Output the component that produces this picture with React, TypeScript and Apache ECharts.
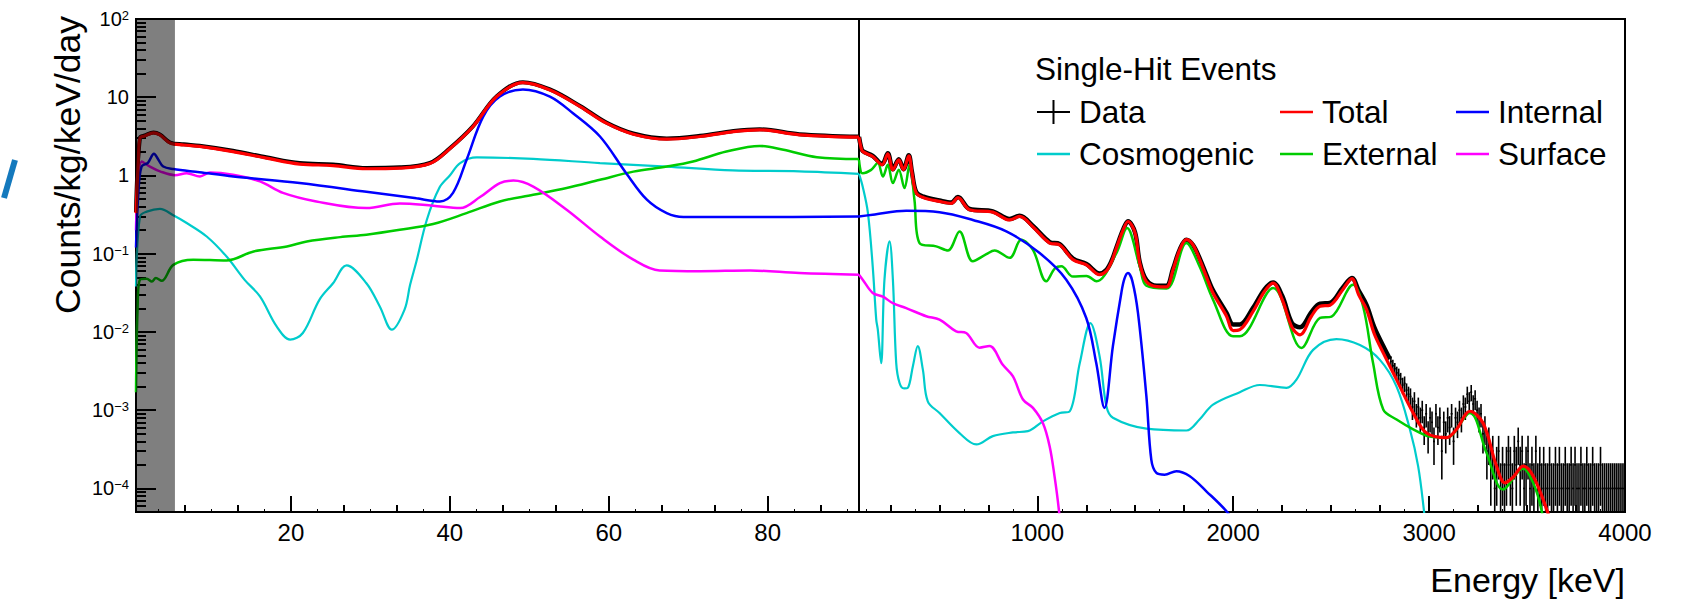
import React, { useEffect, useRef } from 'react';
import * as echarts from 'echarts';

// ---------------- DATA (energy in keV, rate in counts/kg/keV/day) ----------------
// Left panel (low energy)
const totalLowE = [0.5, 0.8, 1.0, 1.6, 2.7, 3.5, 4.8, 6.5, 8.5, 12.7, 16.9, 21.1, 25.3, 29.5, 33.7, 37.5, 40.0, 42.9, 45.9, 49.2, 52.6, 56.4, 59.7, 63.1, 67.3, 71.5, 75.7, 79.0, 84.0, 91.5];
const totalLowV = [0.33, 1.6, 3.0, 3.2, 3.5, 3.3, 2.6, 2.45, 2.35, 2.02, 1.67, 1.40, 1.34, 1.22, 1.24, 1.42, 2.2, 4.2, 10.2, 15.4, 12.4, 7.6, 4.66, 3.37, 2.91, 3.15, 3.64, 3.83, 3.31, 3.09];

const dataLowE = [0.5, 1.0, 1.6, 2.7, 3.5, 4.8, 6.5, 8.5, 12.7, 16.9, 21.1, 25.3, 29.5, 33.7, 37.5, 40.0, 42.9, 45.9, 49.2, 52.6, 56.4, 59.7, 63.1, 67.3, 71.5, 75.7, 79.0, 84.0, 91.5];
const dataLowV = [0.34, 3.05, 3.25, 3.55, 3.35, 2.64, 2.5, 2.4, 2.07, 1.71, 1.44, 1.38, 1.25, 1.27, 1.45, 2.23, 4.25, 10.3, 15.6, 12.6, 7.75, 4.75, 3.44, 2.97, 3.21, 3.71, 3.9, 3.37, 3.14];

const internalLowE = [0.5, 0.8, 1.2, 2.0, 2.76, 3.3, 3.93, 5.19, 8.5, 12.74, 21.1, 29.5, 35.8, 38.75, 40.4, 42.1, 44.2, 46.3, 49.2, 52.6, 55.5, 58.9, 62.2, 64.8, 67.3, 69.4, 77.8, 91.5];
const internalLowV = [0.12, 0.6, 1.30, 1.45, 1.89, 1.6, 1.30, 1.21, 1.1, 0.97, 0.80, 0.62, 0.51, 0.466, 0.6, 1.58, 5.66, 10.2, 12.6, 10.2, 6.25, 3.15, 1.07, 0.49, 0.33, 0.294, 0.294, 0.30];

const cosmoLowE = [0.5, 1.0, 1.85, 3.52, 5.19, 6.88, 9.4, 11.9, 14.2, 16.1, 18.2, 19.9, 21.5, 23.6, 25.3, 27.0, 29.5, 31.2, 32.7, 34.3, 35.0, 35.8, 37.1, 38.7, 40.0, 41.3, 43.4, 50.5, 58.9, 67.3, 75.6, 84.0, 91.5];
const cosmoLowV = [0.038, 0.30, 0.345, 0.375, 0.31, 0.247, 0.166, 0.092, 0.046, 0.0285, 0.0118, 0.008, 0.0097, 0.0259, 0.042, 0.071, 0.042, 0.021, 0.0107, 0.0193, 0.04, 0.08, 0.27, 0.7, 1.0, 1.44, 1.70, 1.63, 1.44, 1.30, 1.16, 1.13, 1.05];

const externalLowE = [0.5, 0.7, 1.0, 1.85, 2.5, 3.0, 3.73, 5.2, 7.7, 11.9, 15.3, 19.5, 22.0, 26.2, 29.5, 33.7, 37.9, 42.1, 46.3, 50.5, 54.7, 58.9, 63.1, 67.3, 70.6, 74.8, 79.0, 82.0, 86.2, 91.5];
const externalLowV = [0.0017, 0.02, 0.0466, 0.048, 0.044, 0.049, 0.045, 0.072, 0.084, 0.082, 0.107, 0.124, 0.1435, 0.163, 0.175, 0.202, 0.24, 0.33, 0.466, 0.566, 0.69, 0.88, 1.12, 1.30, 1.51, 2.02, 2.39, 2.13, 1.71, 1.62];

const surfaceLowE = [0.5, 1.22, 2.26, 3.52, 5.4, 6.88, 8.55, 9.8, 12.7, 16.1, 19.0, 23.2, 29.5, 33.7, 37.9, 41.3, 43.8, 46.3, 48.0, 50.5, 54.7, 58.9, 63.1, 66.4, 71.5, 77.8, 84.0, 91.5];
const surfaceLowV = [0.2, 1.51, 1.30, 1.13, 1.01, 1.07, 0.97, 1.09, 1.02, 0.84, 0.6, 0.466, 0.383, 0.44, 0.41, 0.383, 0.53, 0.8, 0.86, 0.72, 0.365, 0.166, 0.084, 0.061, 0.0598, 0.061, 0.0566, 0.054];

// Right panel (high energy)
const totalHighE = [90, 100, 109, 160, 208, 237, 263, 293, 317, 344, 360, 382, 420, 501, 561, 595, 654, 773, 859, 910, 978, 1063, 1114, 1182, 1251, 1318, 1352, 1380, 1404, 1438, 1463, 1499, 1523, 1557, 1610, 1659, 1693, 1727, 1761, 1795, 1829, 1863, 1897, 1966, 2000, 2034, 2100, 2160, 2204, 2250, 2300, 2341, 2400, 2443, 2494, 2560, 2606, 2640, 2681, 2720, 2766, 2834, 2919, 2987, 3089, 3140, 3208, 3276, 3344, 3387, 3430, 3480, 3531, 3600, 3640];
const totalHighV = [3.09, 2.3, 2.02, 1.75, 1.37, 1.89, 1.18, 1.58, 1.18, 1.78, 1.1, 0.60, 0.52, 0.466, 0.44, 0.52, 0.365, 0.34, 0.27, 0.30, 0.22, 0.137, 0.13, 0.084, 0.072, 0.054, 0.06, 0.08, 0.118, 0.2, 0.258, 0.184, 0.076, 0.044, 0.038, 0.0376, 0.0625, 0.112, 0.151, 0.13, 0.084, 0.051, 0.0315, 0.0159, 0.0104, 0.0107, 0.018, 0.033, 0.042, 0.026, 0.0115, 0.0092, 0.016, 0.0213, 0.022, 0.035, 0.048, 0.03, 0.0193, 0.0095, 0.0054, 0.00246, 0.00092, 0.00051, 0.000445, 0.00057, 0.00097, 0.00068, 0.000193, 0.000118, 0.00014, 0.000193, 0.000144, 0.000054, 0.000025];

const dataHighE = [90, 100, 109, 160, 208, 237, 263, 293, 317, 344, 360, 382, 420, 501, 561, 595, 654, 773, 859, 910, 978, 1063, 1114, 1182, 1251, 1318, 1352, 1380, 1404, 1438, 1463, 1499, 1523, 1557, 1610, 1659, 1693, 1727, 1761, 1795, 1829, 1863, 1897, 1966, 2000, 2034, 2100, 2160, 2204, 2250, 2300, 2341, 2400, 2443, 2494, 2560, 2606, 2640, 2681, 2720, 2766, 2800];
const dataHighV = [3.12, 2.33, 2.06, 1.78, 1.4, 1.92, 1.2, 1.61, 1.2, 1.81, 1.12, 0.615, 0.535, 0.478, 0.45, 0.53, 0.373, 0.348, 0.278, 0.305, 0.226, 0.141, 0.133, 0.087, 0.074, 0.056, 0.062, 0.082, 0.12, 0.203, 0.26, 0.188, 0.078, 0.046, 0.039, 0.039, 0.064, 0.113, 0.151, 0.129, 0.087, 0.054, 0.034, 0.0175, 0.0125, 0.0125, 0.02, 0.035, 0.043, 0.029, 0.013, 0.0115, 0.018, 0.023, 0.0235, 0.037, 0.049, 0.034, 0.022, 0.0115, 0.0066, 0.0045];

// Data points with error bars in the high-energy tail (10 keV bins)
const tailE = [
  2805, 2815, 2825, 2835, 2845, 2855, 2865, 2875, 2885, 2895,
  2905, 2915, 2925, 2935, 2945, 2955, 2965, 2975, 2985, 2995,
  3005, 3015, 3025, 3035, 3045, 3055, 3065, 3075, 3085, 3095,
  3105, 3115, 3125, 3135, 3145, 3155, 3165, 3175, 3185, 3195,
  3205, 3215, 3225, 3235, 3245, 3255, 3265, 3275, 3285, 3295,
  3305, 3315, 3325, 3335, 3345, 3355, 3365, 3375, 3385, 3395,
  3405, 3415, 3425, 3435, 3445, 3455, 3465, 3475, 3485, 3495,
  3505, 3515, 3525, 3535, 3545, 3555, 3565, 3575, 3585, 3595,
  3605, 3615, 3625, 3635, 3645, 3655, 3665, 3675, 3685, 3695,
  3705, 3715, 3725, 3735, 3745, 3755, 3765, 3775, 3785, 3795,
  3805, 3815, 3825, 3835, 3845, 3855, 3865, 3875, 3885, 3895,
  3905, 3915, 3925, 3935, 3945, 3955, 3965, 3975, 3985, 3995,
];
const tailV = [
  0.0042, 0.0037, 0.0034, 0.0030, 0.0028, 0.0025, 0.0021, 0.0022, 0.0018, 0.0016,
  0.0015, 0.0011, 0.0013, 0.0009, 0.0011, 0.0008, 0.0010, 0.0006, 0.0009, 0.0005,
  0.0008, 0.0007, 0.0004, 0.0009, 0.0006, 0.0008, 0.0003, 0.0007, 0.0005, 0.0008,
  0.0006, 0.0009, 0.0004, 0.0008, 0.0007, 0.0010, 0.0008, 0.0012, 0.0011, 0.0016,
  0.0013, 0.0017, 0.0012, 0.0014, 0.0010, 0.0008, 0.0009, 0.0005, 0.0006, 0.0003,
  0.0004, 0.0002, 0.0003, 0.0001, 0.0002, 0.0003, 0.0001, 0.0002, 0.0001, 0.0002,
  0.0003, 0.0002, 0.0001, 0.0003, 0.0002, 0.0004, 0.0002, 0.0003, 0.0001, 0.0002,
  0.0003, 0.0001, 0.0002, 0.0001, 0.0003, 0.0001, 0.0002, 0.0001, 0.0002, 0.0001,
  0.0001, 0.0002, 0.0001, 0.0001, 0.0002, 0.0001, 0.0002, 0.0001, 0.0001, 0.0002,
  0.0001, 0.0001, 0.0002, 0.0001, 0.0002, 0.0001, 0.0001, 0.0002, 0.0001, 0.0001,
  0.0002, 0.0001, 0.0001, 0.0002, 0.0001, 0.0001, 0.0001, 0.0002, 0.0001, 0.0001,
  0.0001, 0.0001, 0.0001, 0.0001, 0.0001, 0.0001, 0.0001, 0.0001, 0.0001, 0.0001,
];
const tailLo = [
  0.0035, 0.0030, 0.0028, 0.0024, 0.0022, 0.0020, 0.0016, 0.0017, 0.0014, 0.0012,
  0.0011, 0.00075, 0.0009, 0.0006, 0.00075, 0.00052, 0.00068, 0.00036, 0.0006, 0.00028,
  0.00052, 0.00044, 0.0002, 0.0006, 0.00036, 0.00052, 0.00013, 0.00044, 0.00028, 0.00052,
  0.00036, 0.0006, 0.0002, 0.00052, 0.00044, 0.00068, 0.00052, 0.00085, 0.00075, 0.0012,
  0.0009, 0.0013, 0.00085, 0.0010, 0.00068, 0.00052, 0.0006, 0.00028, 0.00036, 0.00013,
  0.0002, 0.00006, 0.00013, 0.00001, 0.00006, 0.00013, 0.00001, 0.00006, 0.00001, 0.00006,
  0.00013, 0.00006, 0.00001, 0.00013, 0.00006, 0.0002, 0.00006, 0.00013, 0.00001, 0.00006,
  0.00013, 0.00001, 0.00006, 0.00001, 0.00013, 0.00001, 0.00006, 0.00001, 0.00006, 0.00001,
  0.00001, 0.00006, 0.00001, 0.00001, 0.00006, 0.00001, 0.00006, 0.00001, 0.00001, 0.00006,
  0.00001, 0.00001, 0.00006, 0.00001, 0.00006, 0.00001, 0.00001, 0.00006, 0.00001, 0.00001,
  0.00006, 0.00001, 0.00001, 0.00006, 0.00001, 0.00001, 0.00001, 0.00006, 0.00001, 0.00001,
  0.00001, 0.00001, 0.00001, 0.00001, 0.00001, 0.00001, 0.00001, 0.00001, 0.00001, 0.00001,
];
const tailHi = [
  0.0049, 0.0044, 0.0040, 0.0036, 0.0034, 0.0030, 0.0026, 0.0027, 0.0022, 0.0020,
  0.0019, 0.00145, 0.0017, 0.0012, 0.00145, 0.00108, 0.00132, 0.00084, 0.0012, 0.00072,
  0.00108, 0.00096, 0.0006, 0.0012, 0.00084, 0.00108, 0.00047, 0.00096, 0.00072, 0.00108,
  0.00084, 0.0012, 0.0006, 0.00108, 0.00096, 0.00132, 0.00108, 0.00155, 0.00145, 0.0020,
  0.0017, 0.0021, 0.00155, 0.0018, 0.00132, 0.00108, 0.0012, 0.00072, 0.00084, 0.00047,
  0.0006, 0.00034, 0.00047, 0.00021, 0.00034, 0.00047, 0.00021, 0.00034, 0.00021, 0.00034,
  0.00047, 0.00034, 0.00021, 0.00047, 0.00034, 0.0006, 0.00034, 0.00047, 0.00021, 0.00034,
  0.00047, 0.00021, 0.00034, 0.00021, 0.00047, 0.00021, 0.00034, 0.00021, 0.00034, 0.00021,
  0.00021, 0.00034, 0.00021, 0.00021, 0.00034, 0.00021, 0.00034, 0.00021, 0.00021, 0.00034,
  0.00021, 0.00021, 0.00034, 0.00021, 0.00034, 0.00021, 0.00021, 0.00034, 0.00021, 0.00021,
  0.00034, 0.00021, 0.00021, 0.00034, 0.00021, 0.00021, 0.00021, 0.00034, 0.00021, 0.00021,
  0.00021, 0.00021, 0.00021, 0.00021, 0.00021, 0.00021, 0.00021, 0.00021, 0.00021, 0.00021,
];
const tailHalfBin = 5;

const internalHighE = [90, 160, 331, 501, 671, 842, 1012, 1148, 1250, 1301, 1343, 1386, 1429, 1445, 1463, 1485, 1514, 1557, 1582, 1608, 1650, 1710, 1777, 1863, 1966, 2030];
const internalHighV = [0.30, 0.315, 0.354, 0.34, 0.27, 0.193, 0.102, 0.0466, 0.0151, 0.004, 0.00107, 0.0066, 0.0315, 0.048, 0.0566, 0.045, 0.0175, 0.0015, 0.000234, 0.000158, 0.00015, 0.000166, 0.000144, 0.000092, 0.000051, 0.00003];

const cosmoHighE = [90, 109, 135, 160, 178, 186, 203, 220, 246, 263, 280, 297, 320, 339, 365, 390, 416, 441, 501, 603, 689, 773, 876, 952, 1029, 1115, 1166, 1217, 1271, 1318, 1353, 1386, 1557, 1761, 1828, 1897, 2034, 2136, 2272, 2323, 2408, 2527, 2647, 2749, 2834, 2902, 2944, 2973, 2990];
const cosmoHighV = [1.05, 0.72, 0.34, 0.069, 0.0144, 0.0107, 0.004, 0.0466, 0.1435, 0.0466, 0.004, 0.00223, 0.0019, 0.00193, 0.00365, 0.0066, 0.0033, 0.0013, 0.00092, 0.00051, 0.000365, 0.000466, 0.00052, 0.00054, 0.00072, 0.00092, 0.00097, 0.004, 0.013, 0.0049, 0.00112, 0.0008, 0.00058, 0.00055, 0.00076, 0.00118, 0.0017, 0.0021, 0.00193, 0.00246, 0.0059, 0.0081, 0.0068, 0.0044, 0.002, 0.00057, 0.000193, 0.000054, 0.00002];

const externalHighE = [90, 100, 109, 152, 186, 212, 237, 263, 293, 322, 348, 373, 399, 484, 544, 603, 671, 740, 782, 859, 918, 978, 1046, 1090, 1123, 1182, 1251, 1302, 1404, 1458, 1523, 1557, 1659, 1761, 1828, 1897, 1999, 2034, 2204, 2349, 2443, 2502, 2612, 2663, 2714, 2766, 2834, 2919, 3004, 3089, 3208, 3293, 3378, 3480, 3531, 3573, 3600];
const externalHighV = [1.58, 1.1, 1.07, 1.18, 1.44, 0.97, 1.37, 0.80, 1.18, 0.69, 1.37, 0.49, 0.137, 0.124, 0.11, 0.193, 0.08, 0.0985, 0.11, 0.0885, 0.151, 0.112, 0.0444, 0.065, 0.069, 0.051, 0.052, 0.0444, 0.102, 0.213, 0.069, 0.039, 0.036, 0.137, 0.069, 0.0259, 0.0088, 0.0088, 0.0365, 0.00625, 0.0151, 0.0157, 0.040, 0.0213, 0.004, 0.00102, 0.00076, 0.00057, 0.00046, 0.000445, 0.00092, 0.000285, 0.000097, 0.00018, 0.000118, 0.000054, 0.00002];

const surfaceHighE = [90, 109, 160, 212, 263, 331, 433, 501, 586, 637, 705, 756, 824, 876, 927, 978, 1029, 1063, 1088, 1110, 1125];
const surfaceHighV = [0.054, 0.0466, 0.0315, 0.0283, 0.0233, 0.0202, 0.0159, 0.0144, 0.0102, 0.0097, 0.0063, 0.0066, 0.0038, 0.0027, 0.00137, 0.00107, 0.00068, 0.000347, 0.000144, 0.000054, 0.00002];

// Threshold band (keV)
const bandRange = [0.5, 5.4];

// Axes
const lowRange = [0.5, 91.5];
const highRange = [90, 4000];
const yRange = [5e-5, 100];
const lowMajorTicks = [20, 40, 60, 80];
const lowMidTicks = [6.667, 13.333, 26.667, 33.333, 46.667, 53.333, 66.667, 73.333, 86.667];
const lowSmallTicks = [3.333, 10, 16.667, 23.333, 30, 36.667, 43.333, 50, 56.667, 63.333, 70, 76.667, 83.333, 90];
const highMajorTicks = [1000, 2000, 3000, 4000];
const highMidTicks = [250, 500, 750, 1250, 1500, 1750, 2250, 2500, 2750, 3250, 3500, 3750];
const highSmallTicks = [125, 375, 625, 875, 1125, 1375, 1625, 1875, 2125, 2375, 2625, 2875, 3125, 3375, 3625, 3875];
const yMajorTicks = [-4, -3, -2, -1, 0, 1, 2];
const yTickLabels = ['10{s|\u22124}', '10{s|\u22123}', '10{s|\u22122}', '10{s|\u22121}', '1', '10', '10{s|2}'];
const yMinorMantissa = [2, 3, 4, 5, 6, 7, 8, 9];
const yMinorDecades = [-5, -4, -3, -2, -1, 0, 1];

const FONT = '"Liberation Sans", Arial, Helvetica, sans-serif';
const COLORS = {
  Data: '#000000',
  Total: '#ff0000',
  Internal: '#0000ff',
  Cosmogenic: '#00cccc',
  External: '#00cc00',
  Surface: '#ff00ff',
};

const lg = (v: number) => Math.log10(v);
const toPairs = (es: number[], vs: number[]) => es.map((e, i) => [e, lg(vs[i])]);

const yMinorTicks: number[] = [];
yMinorDecades.forEach((d) => yMinorMantissa.forEach((m) => {
  const v = lg(m) + d;
  if (v >= lg(yRange[0]) && v <= lg(yRange[1])) yMinorTicks.push(v);
}));

const LINE_ICON = 'path://M0,0H0.01V0.01H0Z M0,10.8H33V13.2H0Z M33,23.99H33.01V24H33Z';
const CROSS_ICON = 'path://M0,0H0.01V0.01H0Z M0,11H33V13H0Z M15.5,0H17.5V24H15.5Z M33,23.99H33.01V24H33Z';

function lineSeries(name: string, es: number[], vs: number[], grid: number, width: number, z: number) {
  const color = (COLORS as any)[name];
  return {
    type: 'line',
    name,
    xAxisIndex: grid === 0 ? 0 : 3,
    yAxisIndex: grid === 0 ? 0 : 2,
    data: toPairs(es, vs),
    showSymbol: false,
    symbol: 'none',
    smooth: 0.35,
    clip: true,
    z,
    itemStyle: { color },
    lineStyle: { color, width },
    emphasis: { disabled: true },
  };
}

function tickAxis(gridIndex: number, range: number[], ticks: number[], length: number, width: number) {
  return {
    type: 'value',
    gridIndex,
    position: 'bottom',
    min: range[0],
    max: range[1],
    axisLine: { show: false, onZero: false },
    splitLine: { show: false },
    axisLabel: { show: false },
    axisTick: { show: true, inside: true, length, customValues: ticks, lineStyle: { color: '#000', width } },
  };
}

export default function App() {
  const ref = useRef<HTMLDivElement>(null);

  useEffect(() => {
    if (!ref.current) return;
    const chart = echarts.init(ref.current, undefined, { renderer: 'svg' });
    const yMin = lg(yRange[0]);
    const yMax = lg(yRange[1]);
    const plainNumber = (v: number) => String(Math.round(v));

    const option: any = {
      animation: false,
      backgroundColor: '#ffffff',
      textStyle: { fontFamily: FONT },
      title: {
        text: 'Single-Hit Events',
        left: 1035,
        top: 53,
        padding: 0,
        textStyle: { fontSize: 31.5, fontWeight: 'normal', color: '#000', fontFamily: FONT },
      },
      legend: [
        { names: ['Data', 'Cosmogenic'], left: 1037 },
        { names: ['Total', 'External'], left: 1280 },
        { names: ['Internal', 'Surface'], left: 1456 },
      ].map((l) => ({
        orient: 'vertical',
        left: l.left,
        top: 96,
        padding: 0,
        itemWidth: 33,
        itemHeight: 24,
        itemGap: 10,
        selectedMode: false,
        data: l.names.map((n) => ({ name: n, icon: n === 'Data' ? CROSS_ICON : LINE_ICON, itemStyle: { color: (COLORS as any)[n] } })),
        textStyle: { fontSize: 31.5, color: '#000', fontFamily: FONT, lineHeight: 32, padding: [0, 0, 0, 4] },
      })),
      grid: [
        { left: 136, top: 19, width: 723, height: 493, show: true, borderColor: '#000', borderWidth: 2, backgroundColor: 'transparent' },
        { left: 859, top: 19, width: 766, height: 493, show: true, borderColor: '#000', borderWidth: 2, backgroundColor: 'transparent' },
      ],
      xAxis: [
        {
          type: 'value', gridIndex: 0, position: 'bottom', min: lowRange[0], max: lowRange[1],
          axisLine: { show: false, onZero: false },
          splitLine: { show: false },
          axisTick: { show: true, inside: true, length: 16, customValues: lowMajorTicks, lineStyle: { color: '#000', width: 2 } },
          axisLabel: { show: true, customValues: lowMajorTicks, formatter: plainNumber, fontSize: 24, color: '#000', fontFamily: FONT, margin: 8 },
        },
        tickAxis(0, lowRange, lowMidTicks, 7, 2),
        tickAxis(0, lowRange, lowSmallTicks, 3, 1),
        {
          type: 'value', gridIndex: 1, position: 'bottom', min: highRange[0], max: highRange[1],
          axisLine: { show: false, onZero: false },
          splitLine: { show: false },
          axisTick: { show: true, inside: true, length: 16, customValues: highMajorTicks, lineStyle: { color: '#000', width: 2 } },
          axisLabel: { show: true, customValues: highMajorTicks, formatter: plainNumber, fontSize: 24, color: '#000', fontFamily: FONT, margin: 8 },
        },
        tickAxis(1, highRange, highMidTicks, 7, 2),
        tickAxis(1, highRange, highSmallTicks, 3, 1),
      ],
      yAxis: [
        {
          type: 'value', gridIndex: 0, position: 'left', min: yMin, max: yMax,
          axisLine: { show: false, onZero: false },
          splitLine: { show: false },
          axisTick: { show: true, inside: true, length: 20, customValues: yMajorTicks, lineStyle: { color: '#000', width: 2 } },
          axisLabel: {
            show: true,
            customValues: yMajorTicks,
            fontSize: 20,
            color: '#000',
            fontFamily: FONT,
            margin: 7,
            formatter: (v: number) => {
              const i = yMajorTicks.indexOf(Math.round(v));
              return i >= 0 ? yTickLabels[i] : '';
            },
            rich: { s: { fontSize: 13, verticalAlign: 'top', color: '#000', fontFamily: FONT, padding: [0, 0, 6, 0] } },
          },
        },
        {
          type: 'value', gridIndex: 0, position: 'left', min: yMin, max: yMax,
          axisLine: { show: false, onZero: false },
          splitLine: { show: false },
          axisLabel: { show: false },
          axisTick: { show: true, inside: true, length: 10, customValues: yMinorTicks, lineStyle: { color: '#000', width: 2 } },
        },
        {
          type: 'value', gridIndex: 1, position: 'left', min: yMin, max: yMax, show: false,
          axisLine: { show: false, onZero: false }, splitLine: { show: false },
        },
      ],
      series: [
        lineSeries('Data', dataLowE, dataLowV, 0, 4, 2),
        lineSeries('Cosmogenic', cosmoLowE, cosmoLowV, 0, 2.2, 3),
        lineSeries('External', externalLowE, externalLowV, 0, 2.5, 3),
        lineSeries('Surface', surfaceLowE, surfaceLowV, 0, 2.5, 3),
        lineSeries('Internal', internalLowE, internalLowV, 0, 2.5, 3),
        lineSeries('Total', totalLowE, totalLowV, 0, 3.2, 4),
        lineSeries('Data', dataHighE, dataHighV, 1, 4.5, 2),
        {
          type: 'custom',
          name: 'Data',
          xAxisIndex: 3,
          yAxisIndex: 2,
          clip: true,
          z: 2,
          itemStyle: { color: '#000' },
          data: tailE.map((e, i) => [e, lg(tailV[i]), lg(tailLo[i]), lg(tailHi[i])]),
          encode: { x: 0, y: [1, 2, 3] },
          renderItem: (_p: any, api: any) => {
            const e = api.value(0);
            const v = api.value(1);
            const a = api.coord([e, api.value(2)]);
            const b = api.coord([e, api.value(3)]);
            const l = api.coord([e - tailHalfBin, v]);
            const r = api.coord([e + tailHalfBin, v]);
            return {
              type: 'group',
              children: [
                { type: 'line', shape: { x1: a[0], y1: a[1], x2: b[0], y2: b[1] }, style: { stroke: '#000', lineWidth: 1.6 } },
                { type: 'line', shape: { x1: l[0], y1: l[1], x2: r[0], y2: r[1] }, style: { stroke: '#000', lineWidth: 1.6 } },
              ],
            };
          },
        },
        lineSeries('Cosmogenic', cosmoHighE, cosmoHighV, 1, 2.2, 3),
        lineSeries('External', externalHighE, externalHighV, 1, 2.5, 3),
        lineSeries('Surface', surfaceHighE, surfaceHighV, 1, 2.5, 3),
        lineSeries('Internal', internalHighE, internalHighV, 1, 2.5, 3),
        lineSeries('Total', totalHighE, totalHighV, 1, 3.2, 4),
        {
          type: 'custom',
          name: 'band',
          xAxisIndex: 0,
          yAxisIndex: 0,
          z: 10,
          silent: true,
          clip: true,
          data: [[bandRange[0], bandRange[1]]],
          encode: { x: [0, 1] },
          renderItem: (_p: any, api: any) => {
            const a = api.coord([api.value(0), yMax]);
            const b = api.coord([api.value(1), yMin]);
            return {
              type: 'rect',
              shape: { x: a[0], y: a[1], width: b[0] - a[0], height: b[1] - a[1] },
              style: { fill: 'rgba(0,0,0,0.5)' },
            };
          },
        },
      ],
      graphic: [
        {
          type: 'text',
          x: 68,
          y: 16,
          rotation: Math.PI / 2,
          style: {
            text: 'Counts/kg/keV/day',
            font: `35.5px ${FONT}`,
            fill: '#000',
            align: 'right',
            verticalAlign: 'middle',
            textAlign: 'right',
            textVerticalAlign: 'middle',
          },
        },
        {
          type: 'text',
          x: 1625,
          y: 580,
          style: {
            text: 'Energy [keV]',
            font: `34px ${FONT}`,
            fill: '#000',
            align: 'right',
            verticalAlign: 'middle',
            textAlign: 'right',
            textVerticalAlign: 'middle',
          },
        },
        {
          type: 'line',
          shape: { x1: 15, y1: 160, x2: 4, y2: 198 },
          style: { stroke: '#1479bd', lineWidth: 6 },
        },
      ],
    };

    chart.setOption(option);
    return () => chart.dispose();
  }, []);

  return <div ref={ref} style={{ position: 'fixed', left: 0, top: 0, width: 1687, height: 603 }} />;
}
